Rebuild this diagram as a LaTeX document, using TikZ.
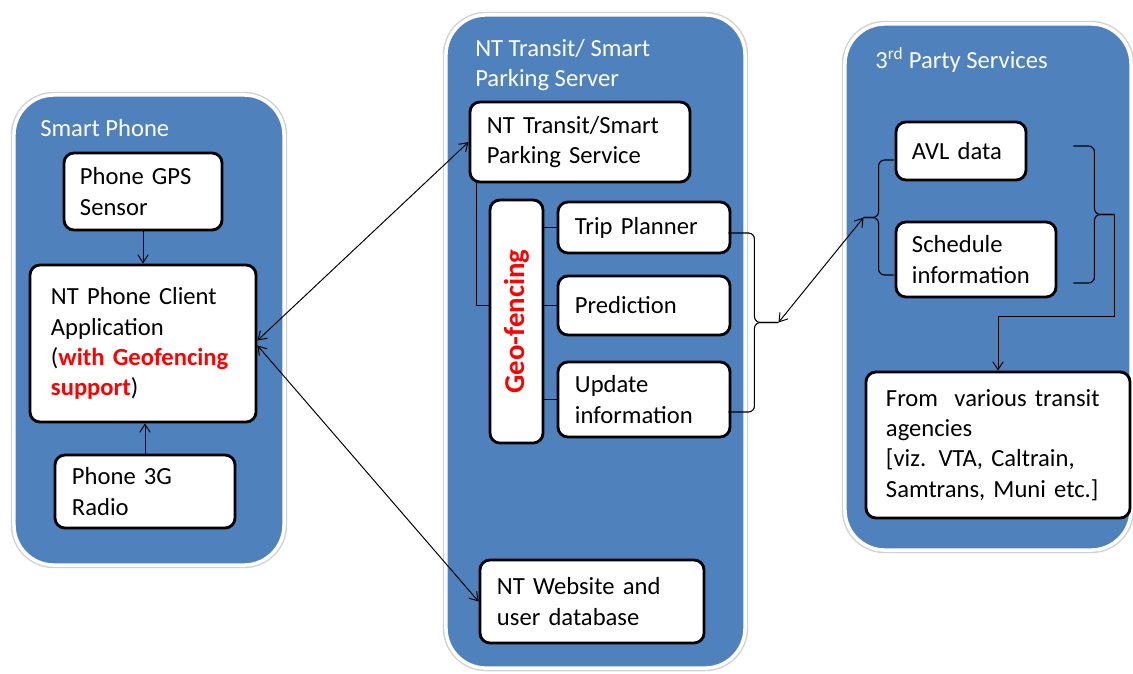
\documentclass[tikz,border=0pt]{standalone}
\usepackage{fontspec}
\setmainfont{Carlito}
\usetikzlibrary{positioning,calc,arrows.meta}
\definecolor{panelblue}{RGB}{79,129,189}
\definecolor{geored}{RGB}{255,0,0}

\begin{document}
\begin{tikzpicture}[
    x=0.025cm, y=-0.025cm,
    every node/.style={font=\fontsize{17.5}{21.5}\selectfont},
    panel/.style={rectangle, fill=panelblue, draw=white, line width=2.5pt, rounded corners=1cm, preaction={draw=black!18, line width=4.5pt}},
    title/.style={text=white, align=left, anchor=west, inner sep=0pt},
    box/.style={rectangle, draw, fill=white, line width=2pt, rounded corners=0.25cm, align=left, inner sep=0pt},
    arrow/.style={-{Straight Barb[length=2mm,width=2.6mm]}, line width=0.7pt},
    dblarrow/.style={{Straight Barb[length=2mm,width=2.6mm]}-{Straight Barb[length=2mm,width=2.6mm]}, line width=0.7pt},
    link/.style={line width=0.7pt},
    bracket/.style={line width=0.8pt, rounded corners=0.15cm}
]
\useasboundingbox (0,0) rectangle (1133,673);

% Panels
\node[panel, minimum width=6.75cm, minimum height=11.75cm] (phone) at (149,330) {};
\node[panel, minimum width=7.475cm, minimum height=16.325cm] (server) at (595.5,341.5) {};
\node[panel, minimum width=7.15cm, minimum height=13.15cm] (third) at (988,287) {};

\node[title] (phonetitle) at (40,128) {Smart Phone};
\node[title] (servertitle) at (475,65) {NT Transit/ Smart\\Parking Server};
\node[title] (thirdtitle) at (875,60) {3\textsuperscript{rd} Party Services};

% Smart phone
\node[box, minimum width=3.95cm, minimum height=1.925cm, text width=3.15cm] (gps) at (143,191.5) {Phone GPS\\Sensor};
\node[box, minimum width=5.65cm, minimum height=3.925cm, text width=4.6cm] (client) at (143,343.5) {NT Phone Client\\Application\\(\textcolor{geored}{\textbf{with Geofencing}}\\\textcolor{geored}{\textbf{support}})};
\node[box, minimum width=4.5cm, minimum height=1.825cm, text width=3.65cm] (radio) at (145,491.5) {Phone 3G\\Radio};

% Server
\node[box, minimum width=5.5cm, minimum height=2cm, text width=4.65cm] (service) at (580,142) {NT Transit/Smart\\Parking Service};
\node[box, minimum width=1.325cm, minimum height=6.075cm] (geo) at (516.5,321.5) {};
\node[rotate=90, text=geored, font=\fontsize{20.5}{24}\selectfont\bfseries] (geotext) at (geo) {Geo-fencing};
\node[box, minimum width=4.3cm, minimum height=1.275cm, text width=3.45cm] (trip) at (644,227.5) {Trip Planner};
\node[box, minimum width=4.3cm, minimum height=1.475cm, text width=3.45cm] (pred) at (644,305.5) {Prediction};
\node[box, minimum width=4.3cm, minimum height=1.875cm, text width=3.45cm] (upd) at (644,399.5) {Update\\information};
\node[box, minimum width=5.6cm, minimum height=2.075cm, text width=4.75cm] (web) at (592,601.5) {NT Website and\\user database};

% 3rd party
\node[box, minimum width=3.25cm, minimum height=1.45cm, text width=2.45cm] (avl) at (961,151) {AVL data};
\node[box, minimum width=4cm, minimum height=1.875cm, text width=3.2cm] (sched) at (976,259.5) {Schedule\\information};
\node[box, minimum width=6.6cm, minimum height=3.65cm, text width=5.6cm] (agency) at (998,445) {From\ \ various transit\\agencies\\{[viz. VTA, Caltrain,}\\Samtrans, Muni etc.]};

% Phone links
\draw[arrow] (gps) -- (client);
\draw[arrow] (radio.north) -- (radio.north |- client.south);
\draw[dblarrow] ($(client.east)+(0,-3)$) -- (service.west);
\draw[dblarrow] ($(client.east)+(0,2)$) -- (web.west);

% Geo-fencing links
\draw[link] ($(service.south west)+(8,0)$) |- (geo.west |- pred.west);
\foreach \n in {trip,pred,upd}
    \draw[link] (geo.east |- \n.west) -- (\n.west);

% Braces
\coordinate (b1a) at ($(trip.east)+(-3,5.5)$);
\coordinate (b1b) at ($(upd.east)+(-3,12.5)$);
\coordinate (b1tip) at ($(b1a)!0.5!(b1b)+(50,0)$);
\draw[bracket] (b1a) -- ($(b1a)+(26,0)$) -- ($(b1a)!0.5!(b1b)+(26,0)$) -- (b1tip);
\draw[bracket] (b1b) -- ($(b1b)+(26,0)$) -- ($(b1a)!0.5!(b1b)+(26,0)$) -- (b1tip);

\coordinate (b2a) at ($(sched.west)+(-1,15.5)$);
\coordinate (b2b) at ($(avl.west)+(-1,9)$);
\coordinate (b2tip) at ($(b2a)!0.5!(b2b)+(-30,0)$);
\draw[bracket] (b2a) -- ($(b2a)+(-15,0)$) -- ($(b2a)!0.5!(b2b)+(-15,0)$) -- (b2tip);
\draw[bracket] (b2b) -- ($(b2b)+(-15,0)$) -- ($(b2a)!0.5!(b2b)+(-15,0)$) -- (b2tip);

\draw[dblarrow] (b1tip) -- (b2tip);

\coordinate (b3a) at ($(avl.east)+(46,-5)$);
\coordinate (b3b) at ($(sched.east)+(16,23.5)$);
\coordinate (b3tip) at ($(b3a)!0.5!(b3b)+(41,0)$);
\draw[bracket] (b3a) -- ($(b3a)+(21,0)$) -- ($(b3a)!0.5!(b3b)+(21,0)$) -- (b3tip);
\draw[bracket] (b3b) -- ($(b3b)+(21,0)$) -- ($(b3a)!0.5!(b3b)+(21,0)$) -- (b3tip);
\draw[arrow] (b3tip) |- ($(agency.north)+(0,-54)$) -- (agency.north);

\end{tikzpicture}
\end{document}
